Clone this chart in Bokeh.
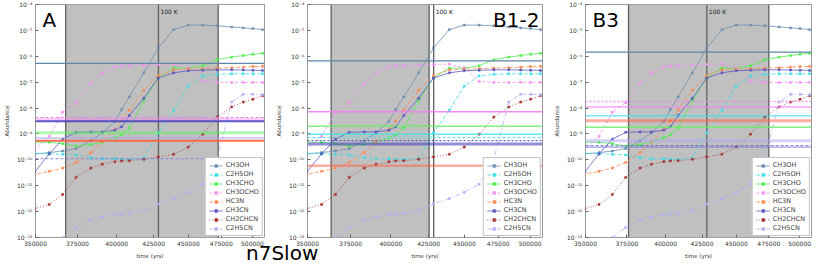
from bokeh.plotting import figure
from bokeh.models import (FixedTicker, NumeralTickFormatter, Span, BoxAnnotation, Label,
                          Legend, LegendItem, Div)
from bokeh.layouts import row, column
from bokeh.embed import file_html
from bokeh.resources import INLINE

# ---------------- data ----------------
time_yrs = [341000, 349600, 358000, 366000, 374200, 383300, 390600, 398800, 403200, 408400,
            418200, 428300, 439300, 449900, 460800, 471800, 483200, 492500, 500400, 508400]

species = ["CH3OH", "C2H5OH", "CH3CHO", "CH3OCHO", "HC3N", "CH3CN", "CH2CHCN", "C2H5CN"]

ch3oh = [1.5e-10, 1.7e-10, 1.9e-10, 2.2e-10, 2.7e-10, 5.5e-10, 1.1e-9, 3.1e-9, 8.7e-9, 2.7e-8,
         2.3e-7, 2.1e-6, 1.07e-5, 1.6e-5, 1.6e-5, 1.5e-5, 1.35e-5, 1.25e-5, 1.17e-5, 1.07e-5]
c2h5oh = [1.9e-10, 1.8e-10, 1.7e-10, 1.65e-10, 1.55e-10, 1.2e-10, 1.1e-10, 1.1e-10, 1.05e-10, 1.05e-10,
          1.15e-10, 1.1e-9, 8.3e-9, 7e-8, 1.75e-7, 2.0e-7, 2.1e-7, 2.1e-7, 2.1e-7, 2.1e-7]
ch3cho = [5e-10, 4.8e-10, 4.8e-10, 4.2e-10, 3.4e-10, 3.9e-10, 4.8e-10, 7.2e-10, 9.3e-10, 1.7e-9,
          1.9e-8, 1.5e-7, 3.5e-7, 3.5e-7, 4.3e-7, 7.4e-7, 9.3e-7, 1.07e-6, 1.2e-6, 1.3e-6]
ch3ocho = [1.5e-10, 2.5e-10, 8e-10, 7e-9, 1.6e-8, 9.1e-8, 2.3e-7, 3.9e-7, 4.2e-7, 4.3e-7,
           4.5e-7, 4.8e-7, 5e-7, 3.6e-7, 1.07e-7, 9.8e-8, 9.8e-8, 9.8e-8, 9.8e-8, 9.8e-8]
hc3n = [2.2e-11, 2.8e-11, 3.6e-11, 4.8e-11, 7.9e-11, 1.9e-10, 5.1e-10, 1.5e-9, 3.2e-9, 8.3e-9,
        4.9e-8, 1.8e-7, 3.0e-7, 3.2e-7, 3.3e-7, 3.5e-7, 3.6e-7, 3.8e-7, 4.0e-7, 4.1e-7]
ch3cn = [2e-11, 3.4e-11, 1.7e-10, 6.3e-10, 1.15e-9, 1.2e-9, 1.2e-9, 1.4e-9, 1.9e-9, 5.2e-9,
         2.4e-8, 1.45e-7, 2.3e-7, 2.75e-7, 2.9e-7, 3.0e-7, 3.0e-7, 2.95e-7, 2.9e-7, 2.85e-7]
ch2chcn = [1.0e-12, 1.3e-12, 1.9e-12, 4.6e-12, 2.1e-11, 4.8e-11, 6.8e-11, 8.5e-11, 9.1e-11, 9.3e-11,
           1.05e-10, 1.3e-10, 1.65e-10, 3.1e-10, 9.8e-10, 4.5e-9, 1.1e-8, 1.7e-8, 2.2e-8, 3.0e-8]
c2h5cn = [1e-14, 2e-14, 4e-14, 1.0e-13, 2.4e-13, 4.9e-13, 6.2e-13, 7.9e-13, 8.1e-13, 8.7e-13,
          1.1e-12, 2.0e-12, 3.2e-12, 5.6e-12, 1.15e-11, 1.1e-10, 1.7e-8, 3.4e-8, 3.4e-8, 3.3e-8]
model = [ch3oh, c2h5oh, ch3cho, ch3ocho, hc3n, ch3cn, ch2chcn, c2h5cn]

panel_names = ["A", "B1-2", "B3"]
shade_start = [367800, 363500, 376000]
shade_end = [472600, 425300, 475000]
t_100K = 428400

# observed abundances (horizontal lines) per panel
obs_species = [
    ["CH3OH", "CH3OCHO", "CH3OCHO", "CH3CN", "CH3CHO", "C2H5CN", "HC3N", "CH2CHCN"],
    ["CH3OH", "CH3OCHO", "CH3CHO", "C2H5OH", "C2H5OH", "CH3CN", "CH3CN", "HC3N"],
    ["CH3OH", "CH3OCHO", "CH3OCHO", "C2H5OH", "HC3N", "CH3CHO", "C2H5CN", "CH3CN", "CH2CHCN"],
]
obs_values = [
    [5.3e-7, 4.3e-9, 3.6e-9, 3.1e-9, 1.12e-9, 6.9e-10, 5.5e-10, 1.1e-10],
    [6.6e-7, 7.2e-9, 2.0e-9, 9.8e-10, 7.3e-10, 5.5e-10, 4.1e-10, 5.9e-11],
    [1.44e-6, 1.78e-8, 1.1e-8, 5.1e-9, 3.2e-9, 1.8e-9, 5.5e-10, 3.5e-10, 3.1e-10],
]
# styles of the observed lines: (width, dash, alpha)
obs_styles = [
    [(1.2, "solid", 1), (1, "3 2", 1), (3, "solid", 0.4), (2, "solid", 0.9), (3, "solid", 0.5),
     (2, "solid", 0.5), (2, "solid", 0.9), (1, "3 2", 0.9)],
    [(1.2, "solid", 1), (1.5, "solid", 0.9), (1.5, "solid", 0.8), (1.5, "solid", 0.8), (1, "3 2", 0.9),
     (1, "2 2", 1), (3, "solid", 0.6), (2.5, "solid", 0.5)],
    [(1.2, "solid", 1), (1.5, "2 2", 0.8), (1.5, "solid", 0.7), (1.5, "solid", 0.7), (3, "solid", 0.5),
     (1.5, "solid", 0.8), (3, "solid", 0.5), (1, "3 2", 0.8), (1, "solid", 0.9)],
]

x_ticks = [350000, 375000, 400000, 425000, 450000, 475000, 500000]
y_ticks = [1e-13, 1e-12, 1e-11, 1e-10, 1e-9, 1e-8, 1e-7, 1e-6, 1e-5, 1e-4]
y_tick_labels = ["10⁻¹³", "10⁻¹²", "10⁻¹¹", "10⁻¹⁰", "10⁻⁹", "10⁻⁸", "10⁻⁷", "10⁻⁶", "10⁻⁵", "10⁻⁴"]

# ---------------- styles ----------------
colors = {"CH3OH": "#7090b0", "C2H5OH": "#40dce6", "CH3CHO": "#50ee50", "CH3OCHO": "#f490f4",
          "HC3N": "#ff8a50", "CH3CN": "#5a5ac0", "CH2CHCN": "#a83030", "C2H5CN": "#b0b0f4"}
obs_colors = {"CH3OH": "#5f86a8", "C2H5OH": "#40e0e8", "CH3CHO": "#60f060", "CH3OCHO": "#f080f0",
              "HC3N": "#ff6040", "CH3CN": "#4848c0", "CH2CHCN": "#8080d8", "C2H5CN": "#a8a8f0"}
dashes = {"CH3OH": "solid", "C2H5OH": "4 2", "CH3CHO": "solid", "CH3OCHO": "3 2",
          "HC3N": "4 2", "CH3CN": "solid", "CH2CHCN": "1 2", "C2H5CN": "5 2 1 2"}

FONT = "DejaVu Sans"
widths = [272, 278, 264]
borders_right = [8, 8, 3]


def make_panel(i):
    p = figure(width=widths[i], height=261, x_axis_type="log", y_axis_type="log",
               x_range=(350000, 510000), y_range=(1e-13, 1e-4),
               output_backend="svg", toolbar_location=None,
               min_border_left=22, min_border_right=borders_right[i], min_border_top=4,
               min_border_bottom=0)
    p.xgrid.visible = False
    p.ygrid.visible = False
    p.outline_line_color = "#999999"
    p.background_fill_color = "white"

    p.xaxis.ticker = FixedTicker(ticks=x_ticks, minor_ticks=[])
    p.xaxis.formatter = NumeralTickFormatter(format="0")
    p.xaxis.axis_label = "time (yrs)"
    p.yaxis.ticker = FixedTicker(ticks=y_ticks, minor_ticks=[])
    p.yaxis.major_label_overrides = dict(zip(y_ticks, y_tick_labels))
    p.yaxis.axis_label = "Abundance"
    for ax in list(p.xaxis) + list(p.yaxis):
        ax.axis_line_color = None
        ax.major_tick_in = 3
        ax.major_tick_out = 0
        ax.major_tick_line_color = "#666666"
        ax.minor_tick_line_color = None
        ax.major_label_text_font = FONT
        ax.major_label_text_font_size = "6px"
        ax.major_label_text_color = "#333333"
        ax.axis_label_text_font = FONT
        ax.axis_label_text_font_size = "5.5px"
        ax.axis_label_text_font_style = "normal"
        ax.axis_label_text_color = "#333333"
        ax.major_label_standoff = 3
        ax.axis_label_standoff = 4

    # shaded period and vertical lines
    p.add_layout(BoxAnnotation(left=shade_start[i], right=shade_end[i], fill_color="#c0c0c0",
                               fill_alpha=1.0, line_color=None, level="underlay"))
    for xv in (shade_start[i], shade_end[i], t_100K):
        p.add_layout(Span(location=xv, dimension="height", line_color="#606060",
                          line_width=1.3, level="underlay"))
    p.add_layout(Label(x=t_100K, y=1e-4, x_offset=2, y_offset=-3, text="100 K",
                       text_baseline="top", text_font=FONT, text_font_size="6px",
                       text_color="#222222"))

    # observed abundances
    for sp, val, (lw, dash, alpha) in zip(obs_species[i], obs_values[i], obs_styles[i]):
        p.add_layout(Span(location=val, dimension="width", line_color=obs_colors[sp],
                          line_width=lw, line_dash=dash, line_alpha=alpha))

    # model curves
    items = []
    for sp, vals in zip(species, model):
        lr = p.line(time_yrs, vals, line_color=colors[sp], line_width=0.8, line_dash=dashes[sp])
        sr = p.scatter(time_yrs, vals, marker="square", size=2, fill_color=colors[sp],
                       line_color=colors[sp], line_width=0.5)
        items.append(LegendItem(label=sp, renderers=[lr, sr]))
    leg = Legend(items=items, location="bottom_right", label_text_font=FONT,
                 label_text_font_size="6.5px", label_height=7, glyph_height=7, glyph_width=14,
                 spacing=1, padding=3, margin=1, border_line_color="#888888",
                 background_fill_alpha=1.0, label_standoff=3)
    p.add_layout(leg)

    # panel label
    if i == 1:
        p.add_layout(Label(x=510000, y=1e-4, x_offset=-3, y_offset=-3, text=panel_names[i],
                           text_align="right", text_baseline="top", text_font=FONT,
                           text_font_size="20px", text_color="black"))
    else:
        p.add_layout(Label(x=350000, y=1e-4, x_offset=7, y_offset=-3, text=panel_names[i],
                           text_align="left", text_baseline="top", text_font=FONT,
                           text_font_size="20px", text_color="black"))
    return p


panels = [make_panel(i) for i in range(3)]
title = Div(text="n7Slow", width=80, height=16, margin=(-16, 0, 0, 246),
            styles={"font-family": FONT, "font-size": "20px", "color": "black",
                    "line-height": "16px"})
layout = column(row(*panels), title)

open("out.html", "w").write(file_html(layout, INLINE))
